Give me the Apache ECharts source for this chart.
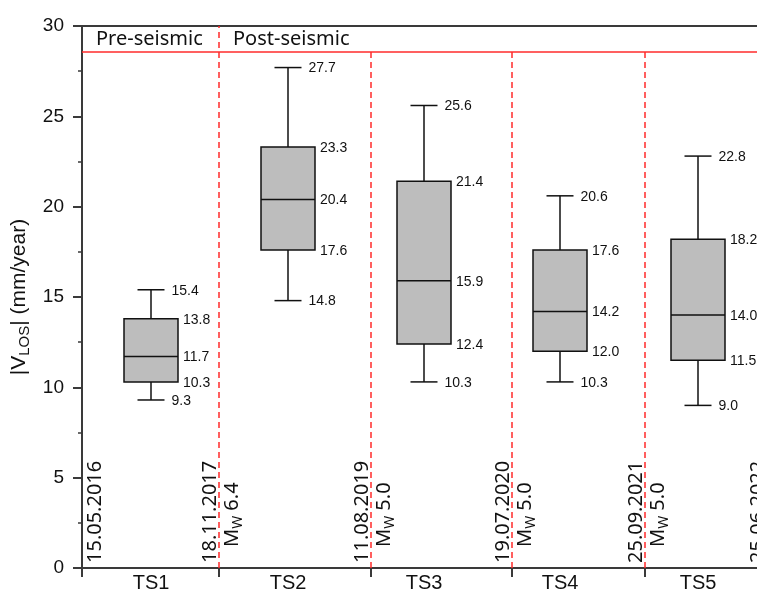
<!DOCTYPE html>
<html>
<head>
<meta charset="utf-8">
<script src="https://cdn.jsdelivr.net/npm/echarts@6/dist/echarts.min.js"></script>
<style>
  html, body { margin: 0; padding: 0; background: #fff; }
  #chart { width: 757px; height: 595px; }
</style>
</head>
<body>
<div id="chart"></div>
<script>
  // boxes, one per time span
  var categories = ['TS1', 'TS2', 'TS3', 'TS4', 'TS5']
  var boxPos = [0.69, 2.06, 3.42, 4.78, 6.16]
  var lowWhisker = [9.3, 14.8, 10.3, 10.3, 9.0]
  var q1 = [10.3, 17.6, 12.4, 12.0, 11.5]
  var medians = [11.7, 20.4, 15.9, 14.2, 14.0]
  var q3 = [13.8, 23.3, 21.4, 17.6, 18.2]
  var highWhisker = [15.4, 27.7, 25.6, 20.6, 22.8]

  // acquisition dates / earthquakes that split the spans
  var edges = [0, 1.37, 2.89, 4.30, 5.63, 6.85]
  var dates = ['15.05.2016', '18.11.2017', '11.08.2019', '19.07.2020', '25.09.2021', '25.06.2022']
  var magnitudes = ['', '6.4', '5.0', '5.0', '5.0', '']

  var phases = ['Pre-seismic', 'Post-seismic']
  var phaseStart = [edges[0], edges[1]]
  var phaseLine = 28.6

  var RED = '#ff2b2b'
  var INK = '#111'
  var AXIS = '#3a3a3a'

  var boxData = categories.map(function (c, i) {
    return [boxPos[i], lowWhisker[i], q1[i], medians[i], q3[i], highWhisker[i]]
  })
  var eventData = edges.map(function (e, i) {
    return [e, 0, dates[i], magnitudes[i]]
  })
  var phaseData = phases.map(function (p, i) {
    return [phaseStart[i], 30, p]
  })

  function fmt(v) { return v.toFixed(1) }

  function renderBox(params, api) {
    var x = api.value(0)
    var lo = api.coord([x, api.value(1)])
    var b1 = api.coord([x, api.value(2)])
    var md = api.coord([x, api.value(3)])
    var b3 = api.coord([x, api.value(4)])
    var hi = api.coord([x, api.value(5)])
    var bw = api.size([0.54, 0])[0]
    var cw = bw / 2
    var cx = md[0]
    var ls = { stroke: INK, lineWidth: 1.5 }
    var lbl = function (txt, px, py) {
      return {
        type: 'text',
        style: { text: txt, x: px, y: py, fill: INK, font: '14px "Liberation Sans", Arial, sans-serif', align: 'left', verticalAlign: 'middle' }
      }
    }
    return {
      type: 'group',
      children: [
        { type: 'line', shape: { x1: cx, y1: b3[1], x2: cx, y2: hi[1] }, style: ls },
        { type: 'line', shape: { x1: cx, y1: b1[1], x2: cx, y2: lo[1] }, style: ls },
        { type: 'line', shape: { x1: cx - cw / 2, y1: hi[1], x2: cx + cw / 2, y2: hi[1] }, style: ls },
        { type: 'line', shape: { x1: cx - cw / 2, y1: lo[1], x2: cx + cw / 2, y2: lo[1] }, style: ls },
        { type: 'rect', shape: { x: cx - bw / 2, y: b3[1], width: bw, height: b1[1] - b3[1] }, style: { fill: '#bdbdbd', stroke: INK, lineWidth: 1.5 } },
        { type: 'line', shape: { x1: cx - bw / 2, y1: md[1], x2: cx + bw / 2, y2: md[1] }, style: ls },
        lbl(fmt(api.value(5)), cx + cw / 2 + 7, hi[1] + 1),
        lbl(fmt(api.value(4)), cx + bw / 2 + 5, b3[1] + 1),
        lbl(fmt(api.value(3)), cx + bw / 2 + 5, md[1] + 1),
        lbl(fmt(api.value(2)), cx + bw / 2 + 5, b1[1] + 1),
        lbl(fmt(api.value(1)), cx + cw / 2 + 7, lo[1] + 1)
      ]
    }
  }

  function renderEvent(params, api) {
    var x = api.value(0)
    var bottom = api.coord([x, 0])
    var px = bottom[0]
    var children = []
    var i = params.dataIndex
    if (i > 0) {
      // the pre/post boundary runs to the top of the frame
      var top = api.coord([x, i === 1 ? 30 : phaseLine])
      children.push({
        type: 'line',
        shape: { x1: px, y1: bottom[1], x2: px, y2: top[1] },
        style: { stroke: RED, lineWidth: 1.5, lineDash: [6, 4] }
      })
    }
    children.push({
      type: 'text',
      x: i === 0 ? px + 13 : px - 9,
      y: bottom[1] - 5,
      rotation: Math.PI / 2,
      style: { text: api.value(2), fill: INK, font: '20px "Noto Sans", sans-serif', align: 'left', verticalAlign: 'middle' }
    })
    var mw = api.value(3)
    if (mw) {
      children.push({
        type: 'text',
        x: px + 13,
        y: bottom[1] - 21,
        rotation: Math.PI / 2,
        style: {
          text: '{m|M}{s|W}{m| ' + mw + '}',
          fill: INK,
          align: 'left',
          verticalAlign: 'middle',
          rich: {
            m: { fontSize: 20, fontFamily: 'Noto Sans', lineHeight: 26, fill: INK },
            s: { fontSize: 14, fontFamily: 'Noto Sans', lineHeight: 14, verticalAlign: 'bottom', fill: INK }
          }
        }
      })
    }
    return { type: 'group', children: children }
  }

  function renderPhase(params, api) {
    var p = api.coord([api.value(0), 30])
    return {
      type: 'text',
      style: { text: api.value(2), x: p[0] + 14, y: p[1] + 13, fill: INK, font: '20px "Noto Sans", sans-serif', align: 'left', verticalAlign: 'middle' }
    }
  }

  var myChart = echarts.init(document.getElementById('chart'))
  myChart.setOption({
    animation: false,
    grid: { left: 82, right: 0, top: 26, bottom: 27, outerBoundsMode: 'none', containLabel: false },
    xAxis: [{
      type: 'value',
      min: 0,
      max: 6.75,
      position: 'bottom',
      splitLine: { show: false },
      axisLine: { lineStyle: { color: AXIS, width: 2 } },
      axisTick: { length: 9, customValues: edges.slice(0, 5), lineStyle: { color: AXIS, width: 2 } },
      axisLabel: {
        customValues: boxPos,
        margin: 5,
        fontSize: 20,
        color: INK,
        fontFamily: 'Liberation Sans',
        formatter: function (v) {
          var k = boxPos.indexOf(v)
          return k >= 0 ? categories[k] : ''
        }
      }
    }, {
      type: 'value',
      min: 0,
      max: 6.75,
      position: 'top',
      splitLine: { show: false },
      axisLine: { show: true, lineStyle: { color: AXIS, width: 2 } },
      axisTick: { show: false },
      axisLabel: { show: false }
    }],
    yAxis: {
      type: 'value',
      min: 0,
      max: 30,
      interval: 5,
      name: '|V{s|LOS}| (mm/year)',
      nameLocation: 'middle',
      nameGap: 50,
      nameRotate: 90,
      nameTextStyle: {
        fontSize: 21,
        color: INK,
        fontFamily: 'Liberation Sans',
        lineHeight: 26,
        rich: { s: { fontSize: 15, fontFamily: 'Liberation Sans', lineHeight: 15, verticalAlign: 'bottom', color: INK } }
      },
      splitLine: { show: false },
      axisLine: { show: true, lineStyle: { color: AXIS, width: 2 } },
      axisTick: { length: 9, lineStyle: { color: AXIS, width: 2 } },
      minorTick: { show: true, splitNumber: 2, length: 4, lineStyle: { color: AXIS, width: 1.5 } },
      axisLabel: { fontSize: 19, color: INK, margin: 18, fontFamily: 'Liberation Sans' }
    },
    series: [{
      name: 'events',
      type: 'custom',
      renderItem: renderEvent,
      clip: false,
      silent: true,
      encode: { x: 0, y: 1 },
      data: eventData,
      z: 1
    }, {
      name: 'phases',
      type: 'custom',
      renderItem: renderPhase,
      silent: true,
      encode: { x: 0, y: 1 },
      data: phaseData,
      markLine: {
        silent: true,
        symbol: 'none',
        label: { show: false },
        lineStyle: { color: RED, type: 'solid', width: 1.5 },
        data: [{ yAxis: phaseLine }]
      },
      z: 1
    }, {
      name: 'VLOS',
      type: 'custom',
      renderItem: renderBox,
      encode: { x: 0, y: [1, 2, 3, 4, 5] },
      data: boxData,
      z: 2
    }]
  })
</script>
</body>
</html>
